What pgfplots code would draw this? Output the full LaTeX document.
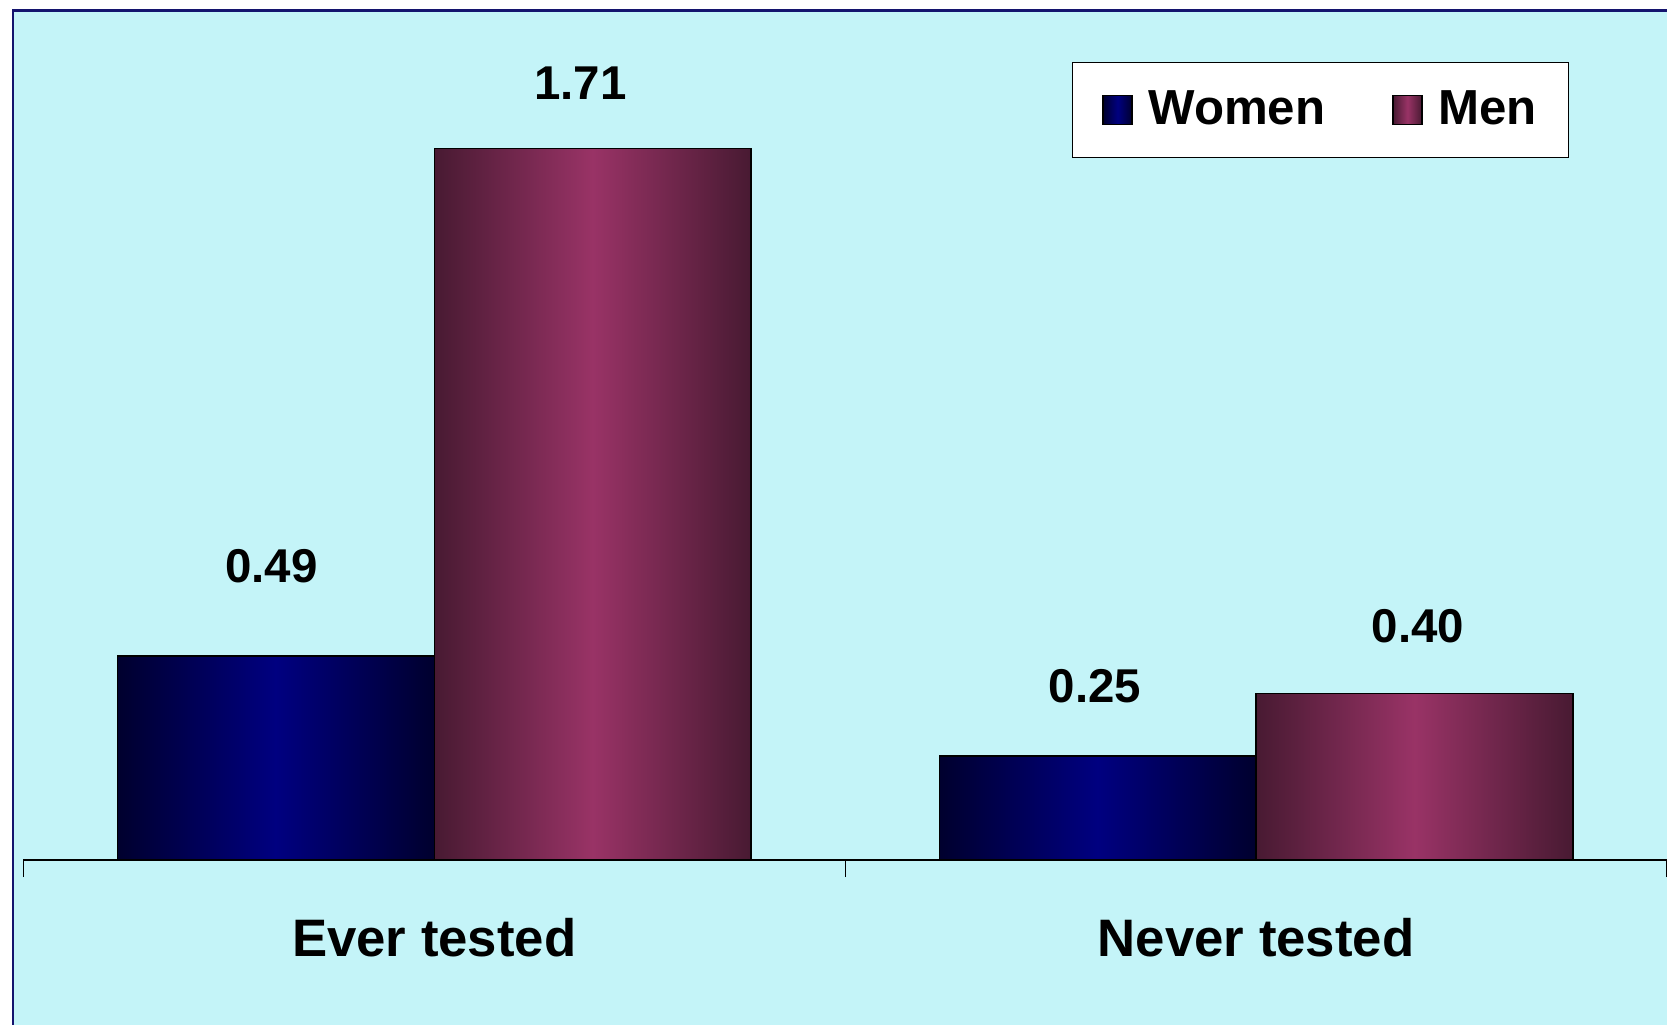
\documentclass[border=0pt]{standalone}
\usepackage{fontspec}
\setmainfont{Liberation Sans}
\usepackage{pgfplots}
\pgfplotsset{compat=1.18}

\definecolor{bgcyan}{RGB}{196,244,248}
\definecolor{framenavy}{RGB}{20,20,110}
\definecolor{wmid}{RGB}{0,0,128}
\definecolor{wedge}{RGB}{0,0,46}
\definecolor{mmid}{RGB}{153,51,102}
\definecolor{medge}{RGB}{72,26,50}

\pgfplotsset{
    womenbar/.style={ybar, bar width=31.68mm, bar shift=-15.84mm, draw=black, line width=0.15mm,
        left color=wedge, right color=wedge, middle color=wmid},
    menbar/.style={ybar, bar width=31.68mm, bar shift=15.84mm, draw=black, line width=0.15mm,
        left color=medge, right color=medge, middle color=mmid},
}

\begin{document}
\begin{tikzpicture}[x=1mm,y=1mm]
\useasboundingbox (0,0) rectangle (166.7,102.4);
\begin{scope}
\clip (0,0) rectangle (166.7,102.4);
\fill[white] (0,0) rectangle (166.7,102.4);
\filldraw[fill=bgcyan, draw=framenavy, line width=0.25mm] (1.28,-2) rectangle (170,101.34);
\begin{axis}[
    at={(2.34mm,16.4mm)}, anchor=south west,
    scale only axis,
    width=164.36mm, height=84.9mm,
    xmin=-0.5, xmax=1.5,
    ymin=0, ymax=2.041,
    axis x line*=bottom,
    axis y line=none,
    x axis line style={black, line width=0.2mm},
    xtick={0,1},
    xticklabels={Ever tested, Never tested},
    major tick length=0pt,
    minor xtick={-0.5,0.5,1.5},
    minor tick length=1.7mm,
    tick align=outside,
    minor tick style={black, line width=0.12mm},
    xticklabel style={font=\fontsize{15}{18}\selectfont\bfseries, yshift=-4.6mm},
    ytick=\empty,
    clip=false,
    point meta=explicit symbolic,
    nodes near coords,
    visualization depends on={value \thisrow{off}\as\off},
    visualization depends on={value \thisrow{dx}\as\dx},
    every node near coord/.append style={font=\fontsize{13.5}{16}\selectfont\bfseries,
        anchor=south, yshift=\off mm-1.15mm, xshift=\dx mm},
    legend columns=2,
    legend image code/.code={\draw[#1] (0.6mm,-1.45mm) rectangle (3.5mm,1.45mm);
        \path (0mm,0mm) (4.25mm,0mm);},
    legend style={at={(0.6378,0.9403)}, anchor=north west,
        draw=black, line width=0.15mm, fill=white,
        font=\fontsize{14}{16}\selectfont\bfseries,
        inner xsep=2.4mm, inner ysep=2.8mm,
        nodes={inner xsep=0.8mm, inner ysep=0pt},
        /tikz/every even column/.append style={column sep=5.3mm}},
]
% Ever tested
\addplot[womenbar] table[x=x, y=y, meta=lab] {
x y lab off dx
0 0.49 0.49 7.2 -16.3
};
\addlegendentry{Women}
\addplot[menbar] table[x=x, y=y, meta=lab] {
x y lab off dx
0 1.71 1.71 4.8 14.6
};
\addlegendentry{Men}
% Never tested
\addplot[womenbar, forget plot] table[x=x, y=y, meta=lab] {
x y lab off dx
1 0.25 0.25 5.2 -16.1
};
\addplot[menbar, forget plot] table[x=x, y=y, meta=lab] {
x y lab off dx
1 0.40 0.40 5.0 16.2
};
\end{axis}
\end{scope}
\end{tikzpicture}
\end{document}
